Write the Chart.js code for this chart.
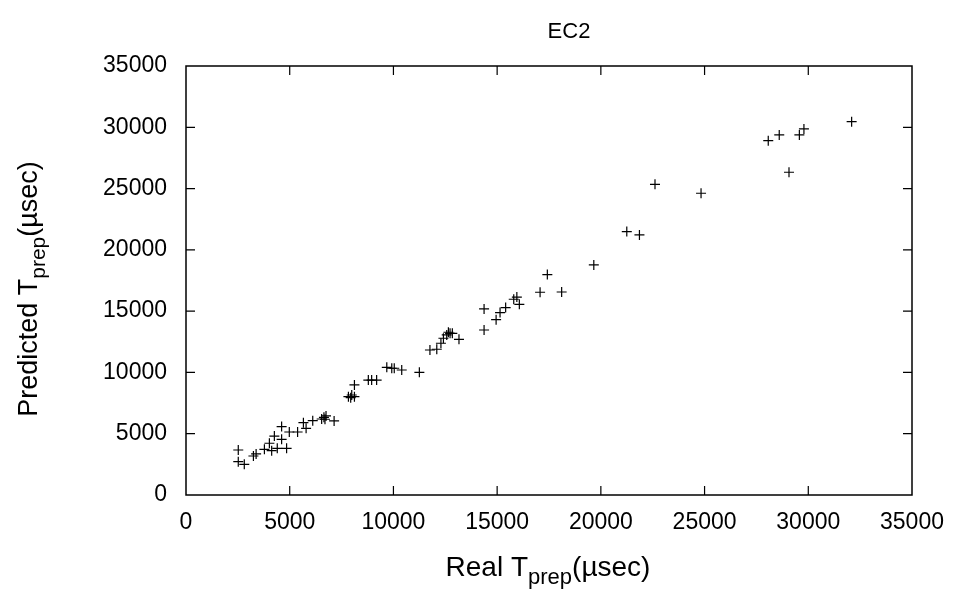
<!DOCTYPE html>
<html>
<head>
<meta charset="utf-8">
<script src="https://cdn.jsdelivr.net/npm/chart.js@4/dist/chart.umd.min.js"></script>
<style>
  html, body { margin: 0; padding: 0; background: #fff; }
  #wrap { width: 960px; height: 589px; }
</style>
</head>
<body>
<div id="wrap"><canvas id="myChart" width="960" height="589"></canvas></div>
<script>

// measured vs predicted preparation time, microseconds
const realT = [
  2520, 2520, 2810, 3250, 3380, 3780, 4020, 4130, 4260, 4400,
  4610, 4610, 4850, 4980, 5380, 5660, 5790, 6110, 6540, 6650,
  6700, 6750, 7140, 7830, 7940, 7990, 8120, 8120, 8790, 8950,
  9190, 9680, 9920, 10040, 10400, 11250, 11760, 12090, 12290, 12410,
  12570, 12650, 12730, 12840, 13160, 14370, 14370, 14950, 15140, 15410,
  15800, 15950, 16070, 17070, 17420, 18110, 19660, 21250, 21860, 22610,
  24830, 28070, 28600, 29070, 29570, 29790, 32090
]
const predT = [
  3670, 2720, 2500, 3180, 3350, 3730, 4220, 3620, 4810, 3810,
  5580, 4540, 3810, 5140, 5140, 5900, 5440, 6060, 6200, 6340,
  6180, 6450, 6040, 8020, 7940, 8160, 8020, 8980, 9380, 9380,
  9380, 10420, 10340, 10340, 10200, 10010, 11830, 11890, 12380, 12790,
  13060, 13280, 13190, 13190, 12700, 13460, 15180, 14300, 14880, 15290,
  15970, 16150, 15560, 16540, 17980, 16560, 18770, 21490, 21220, 25350,
  24620, 28910, 29380, 26330, 29380, 29870, 30460
]

const axisMin = 0
const axisMax = 35000
const tickStep = 5000

const chartTitle = 'EC2'
const xTitle = ['Real T', 'prep', '(\u00b5sec)']
const yTitle = ['Predicted T', 'prep', '(\u00b5sec)']

const FONT = '"Liberation Sans", Arial, Helvetica, sans-serif'

let points = realT.map((x, i) => ({ x: x, y: predT[i] }))


// title with subscript, drawn piece by piece
function drawSubText(ctx, parts, cx, baseY, size){
  let big = size + 'px ' + FONT
  let small = Math.round(size * 0.78) + 'px ' + FONT
  ctx.font = big
  let w0 = ctx.measureText(parts[0]).width
  let w2 = ctx.measureText(parts[2]).width
  ctx.font = small
  let w1 = ctx.measureText(parts[1]).width
  let x = cx - (w0 + w1 + w2) / 2
  ctx.textAlign = 'left'
  ctx.textBaseline = 'alphabetic'
  ctx.font = big
  ctx.fillText(parts[0], x, baseY)
  ctx.font = small
  ctx.fillText(parts[1], x + w0, baseY + 8)
  ctx.font = big
  ctx.fillText(parts[2], x + w0 + w1, baseY)
}


const framePlugin = {
  id: 'gnuFrame',
  afterDraw(chart){
    let ctx = chart.ctx
    let a = chart.chartArea
    let xs = chart.scales.x
    let ys = chart.scales.y
    ctx.save()
    ctx.strokeStyle = '#000'
    ctx.lineWidth = 1.5
    ctx.strokeRect(a.left, a.top, a.right - a.left, a.bottom - a.top)

    // inward ticks, mirrored
    let len = 9
    ctx.lineWidth = 1.2
    ctx.beginPath()
    for (let v = axisMin + tickStep; v < axisMax; v += tickStep){
      let px = xs.getPixelForValue(v)
      ctx.moveTo(px, a.bottom); ctx.lineTo(px, a.bottom - len)
      ctx.moveTo(px, a.top); ctx.lineTo(px, a.top + len)
      let py = ys.getPixelForValue(v)
      ctx.moveTo(a.left, py); ctx.lineTo(a.left + len, py)
      ctx.moveTo(a.right, py); ctx.lineTo(a.right - len, py)
    }
    ctx.stroke()

    ctx.fillStyle = '#000'
    ctx.font = '22px ' + FONT
    ctx.textAlign = 'center'
    ctx.textBaseline = 'alphabetic'
    ctx.fillText(chartTitle, 569, 38)

    drawSubText(ctx, xTitle, 548, 576, 28)

    ctx.translate(37, 289)
    ctx.rotate(-Math.PI / 2)
    drawSubText(ctx, yTitle, 0, 0, 27)
    ctx.restore()
  }
}


new Chart(
  document.getElementById('myChart'),
  {
    type: 'scatter',
    data: {
      datasets: [
        {
          label: 'EC2',
          data: points,
          pointStyle: 'cross',
          pointRadius: 5,
          borderColor: '#000',
          backgroundColor: '#000',
          borderWidth: 1.2
        }
      ]
    },
    options: {
      responsive: false,
      animation: false,
      layout: {
        padding: { top: 66, right: 48, left: 0, bottom: 0 }
      },
      plugins: {
        legend: { display: false },
        title: { display: false },
        tooltip: { enabled: false }
      },
      scales: {
        x: {
          type: 'linear',
          min: axisMin,
          max: axisMax,
          grid: { display: false },
          border: { display: false },
          ticks: {
            stepSize: tickStep,
            color: '#000',
            font: { family: FONT, size: 23 },
            padding: 6,
            maxRotation: 0,
            callback: v => String(v)
          },
          afterFit: scale => { scale.height = 94 }
        },
        y: {
          type: 'linear',
          min: axisMin,
          max: axisMax,
          grid: { display: false },
          border: { display: false },
          ticks: {
            stepSize: tickStep,
            color: '#000',
            font: { family: FONT, size: 23 },
            padding: 11,
            callback: v => String(v)
          },
          afterFit: scale => { scale.width = 186 }
        }
      }
    },
    plugins: [framePlugin]
  }
)

</script>
</body>
</html>
